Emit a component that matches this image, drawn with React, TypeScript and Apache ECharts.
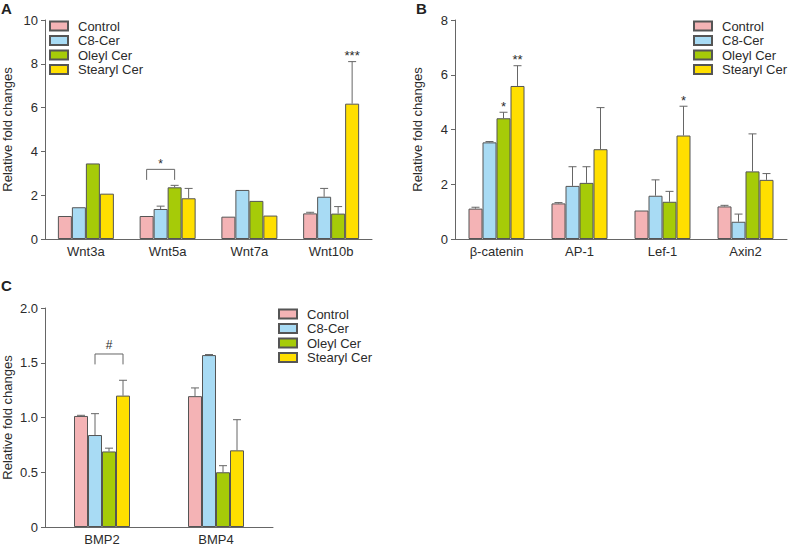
import React, { useEffect, useRef } from "react";
import * as echarts from "echarts";

const GROUPS = ["Control", "C8-Cer", "Oleyl Cer", "Stearyl Cer"];
const COLORS = ["#F4B3B5", "#A8DBF4", "#A6CB08", "#FFDF00"];

// Panel A
const catsA = ["Wnt3a", "Wnt5a", "Wnt7a", "Wnt10b"];
const valsA = [
  [1.05, 1.05, 1.02, 1.17],
  [1.45, 1.37, 2.24, 1.93],
  [3.45, 2.36, 1.74, 1.16],
  [2.07, 1.86, 1.07, 6.18],
];
const errA = [
  [0, 0, 0, 1.22],
  [0, 1.5, 0, 2.31],
  [0, 2.45, 0, 1.48],
  [0, 2.31, 0, 8.1],
];
const sigA = [
  { cat: 1, from: 0, to: 2, top: 3.18, bottom: 2.7, textY: 3.42, text: "*" },
  { cat: 3, from: 3, to: 3, top: 0, bottom: 0, textY: 8.5, text: "***" },
];

// Panel B
const catsB = ["β-catenin", "AP-1", "Lef-1", "Axin2"];
const valsB = [
  [1.11, 1.3, 1.04, 1.19],
  [3.53, 1.94, 1.58, 0.63],
  [4.41, 2.05, 1.36, 2.47],
  [5.59, 3.28, 3.78, 2.16],
];
const errB = [
  [1.16, 1.33, 0, 1.23],
  [3.56, 2.64, 2.16, 0.91],
  [4.63, 2.64, 1.74, 3.84],
  [6.33, 4.8, 4.85, 2.39],
];
const sigB = [
  { cat: 0, from: 2, to: 2, top: 0, bottom: 0, textY: 4.95, text: "*" },
  { cat: 0, from: 3, to: 3, top: 0, bottom: 0, textY: 6.65, text: "**" },
  { cat: 2, from: 3, to: 3, top: 0, bottom: 0, textY: 5.17, text: "*" },
];

// Panel C
const catsC = ["BMP2", "BMP4"];
const valsC = [
  [1.014, 1.195],
  [0.84, 1.57],
  [0.69, 0.5],
  [1.2, 0.7],
];
const errC = [
  [1.02, 1.27],
  [1.035, 1.575],
  [0.72, 0.56],
  [1.34, 0.98],
];
const sigC = [
  { cat: 0, from: 1, to: 3, top: 1.58, bottom: 1.485, textY: 1.66, text: "#" },
];

const BAR_W = 14;
const FONT = "Liberation Sans, Arial, sans-serif";
const TXT = "#2b2b2b";
const AXIS = "#666";

function makeAxes(idx: number, cats: string[], max: number, interval: number, fmt?: (v: number) => string) {
  const x = {
    type: "category",
    gridIndex: idx,
    data: cats,
    axisLine: { lineStyle: { color: AXIS, width: 1 } },
    axisTick: { length: 5, lineStyle: { color: AXIS } },
    axisLabel: { color: TXT, fontSize: 13, fontFamily: FONT, margin: 6 },
  };
  const y = {
    type: "value",
    gridIndex: idx,
    min: 0,
    max,
    interval,
    name: "Relative fold changes",
    nameLocation: "middle",
    nameRotate: 90,
    nameGap: 31,
    nameTextStyle: { color: TXT, fontSize: 13, fontFamily: FONT },
    splitLine: { show: false },
    axisLine: { show: true, lineStyle: { color: AXIS, width: 1 } },
    axisTick: { show: true, length: 4, lineStyle: { color: AXIS } },
    axisLabel: { color: TXT, fontSize: 13, fontFamily: FONT, margin: 7, formatter: fmt },
  };
  return { x, y };
}

function barSeries(idx: number, vals: number[][]) {
  return vals.map((v, g) => ({
    type: "bar",
    name: GROUPS[g],
    xAxisIndex: idx,
    yAxisIndex: idx,
    data: v,
    barWidth: BAR_W,
    barGap: "0%",
    itemStyle: { color: COLORS[g], borderColor: "#555", borderWidth: 1 },
    z: 2,
  }));
}

function errSeries(idx: number, vals: number[][], errs: number[][]) {
  return vals.map((v, g) => ({
    type: "custom",
    xAxisIndex: idx,
    yAxisIndex: idx,
    z: 4,
    silent: true,
    data: v.map((val, i) => [i, val, errs[g][i]]),
    renderItem: (params: any, api: any) => {
      const ci = api.value(0);
      const val = api.value(1);
      const e = api.value(2);
      if (!(e > val)) return null;
      const base = api.coord([ci, val]);
      const top = api.coord([ci, e]);
      const x = base[0] + (g - 1.5) * BAR_W;
      return {
        type: "group",
        children: [
          { type: "line", shape: { x1: x, y1: base[1], x2: x, y2: top[1] }, style: { stroke: "#666", lineWidth: 1 } },
          { type: "line", shape: { x1: x - 4, y1: top[1], x2: x + 4, y2: top[1] }, style: { stroke: "#666", lineWidth: 1 } },
        ],
      };
    },
  }));
}

function sigSeries(idx: number, sig: any[]) {
  return {
    type: "custom",
    xAxisIndex: idx,
    yAxisIndex: idx,
    z: 5,
    silent: true,
    data: sig.map((s) => [s.cat, s.textY]),
    renderItem: (params: any, api: any) => {
      const s = sig[params.dataIndex];
      const c = api.coord([s.cat, s.textY]);
      const children: any[] = [];
      if (s.from !== s.to) {
        const x1 = c[0] + (s.from - 1.5) * BAR_W;
        const x2 = c[0] + (s.to - 1.5) * BAR_W;
        const yt = api.coord([s.cat, s.top])[1];
        const yb = api.coord([s.cat, s.bottom])[1];
        children.push({
          type: "polyline",
          shape: { points: [[x1, yb], [x1, yt], [x2, yt], [x2, yb]] },
          style: { stroke: "#666", lineWidth: 1, fill: "none" },
        });
        children.push({
          type: "text",
          x: (x1 + x2) / 2,
          y: c[1],
          style: { text: s.text, fontSize: 12, fontFamily: FONT, fill: TXT, align: "center", verticalAlign: "middle" },
        });
      } else {
        const x = c[0] + (s.from - 1.5) * BAR_W;
        children.push({
          type: "text",
          x,
          y: c[1] + 3,
          style: { text: s.text, fontSize: 13, fontFamily: FONT, fill: TXT, align: "center", verticalAlign: "middle" },
        });
      }
      return { type: "group", children };
    },
  };
}

function legend(left: number, top: number) {
  return {
    left,
    top,
    orient: "vertical",
    data: GROUPS,
    icon: "rect",
    itemWidth: 18,
    itemHeight: 9,
    itemGap: 0.5,
    selectedMode: false,
    textStyle: { color: TXT, fontSize: 13, fontFamily: FONT, lineHeight: 14, padding: [0, 0, 0, 5] },
    padding: 0,
  };
}

export default function App() {
  const ref = useRef<HTMLDivElement>(null);
  useEffect(() => {
    document.body.style.margin = "0";
    if (!ref.current) return;
    const chart = echarts.init(ref.current, null, { renderer: "svg" });
    const a = makeAxes(0, catsA, 10, 2);
    const b = makeAxes(1, catsB, 8, 2);
    const c = makeAxes(2, catsC, 2, 0.5, (v: number) => (v === 0 ? "0" : v.toFixed(1)));
    chart.setOption({
      animation: false,
      backgroundColor: "#fff",
      grid: [
        { left: 40, top: 20, width: 332, height: 219 },
        { left: 455, top: 20, width: 332, height: 219 },
        { left: 42, top: 308, width: 231, height: 219 },
      ],
      xAxis: [a.x, b.x, c.x],
      yAxis: [a.y, b.y, c.y],
      legend: [legend(49, 19), legend(693, 19), legend(278, 307)],
      graphic: [
        { type: "text", left: 1, top: 1, style: { text: "A", fontSize: 15, fontWeight: "bold", fontFamily: FONT, fill: "#222" } },
        { type: "text", left: 416, top: 1, style: { text: "B", fontSize: 15, fontWeight: "bold", fontFamily: FONT, fill: "#222" } },
        { type: "text", left: 1, top: 278, style: { text: "C", fontSize: 15, fontWeight: "bold", fontFamily: FONT, fill: "#222" } },
      ],
      series: [
        ...barSeries(0, valsA),
        ...barSeries(1, valsB),
        ...barSeries(2, valsC),
        ...errSeries(0, valsA, errA),
        ...errSeries(1, valsB, errB),
        ...errSeries(2, valsC, errC),
        sigSeries(0, sigA),
        sigSeries(1, sigB),
        sigSeries(2, sigC),
      ],
    });
    return () => chart.dispose();
  }, []);
  return <div ref={ref} style={{ width: 789, height: 546 }} />;
}
